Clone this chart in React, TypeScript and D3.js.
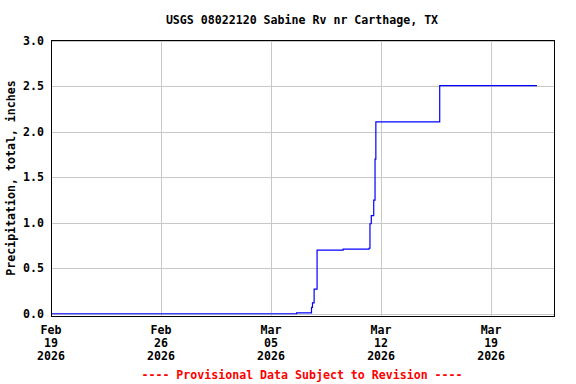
import React from "react";
import * as d3 from "d3";

const title = "USGS 08022120 Sabine Rv nr Carthage, TX";
const yLabel = "Precipitation, total, inches";
const footer = "---- Provisional Data Subject to Revision ----";

const times = [
  "2026-02-19T00:00Z",
  "2026-03-06T15:00Z",
  "2026-03-07T13:45Z",
  "2026-03-07T15:15Z",
  "2026-03-07T17:45Z",
  "2026-03-07T22:15Z",
  "2026-03-09T14:00Z",
  "2026-03-11T05:30Z",
  "2026-03-11T07:00Z",
  "2026-03-11T09:00Z",
  "2026-03-11T12:45Z",
  "2026-03-11T14:45Z",
  "2026-03-11T16:00Z",
  "2026-03-15T17:30Z",
  "2026-03-21T22:00Z",
];
const values = [0.0, 0.01, 0.07, 0.12, 0.27, 0.7, 0.71, 0.72, 0.99, 1.08, 1.25, 1.7, 2.11, 2.51, 2.51];

const xTicks = ["2026-02-19", "2026-02-26", "2026-03-05", "2026-03-12", "2026-03-19"];
const yTicks = [0, 0.5, 1.0, 1.5, 2.0, 2.5, 3.0];

const W = 576;
const H = 384;
const left = 51;
const right = 554;
const top = 40;
const bottom = 316;
const font = "'DejaVu Sans Mono', monospace";
const fs = 11.6;

export default function App() {
  const x = d3
    .scaleUtc()
    .domain([new Date("2026-02-19T00:00Z"), new Date("2026-03-23T00:00Z")])
    .range([left, right]);
  const y = d3.scaleLinear().domain([-0.025, 3.011]).range([bottom, top]);
  const data = times.map((t, i) => ({ t: new Date(t), v: values[i] }));
  const line = d3
    .line<{ t: Date; v: number }>()
    .x((d) => x(d.t))
    .y((d) => y(d.v))
    .curve(d3.curveStepAfter);
  const fmtM = d3.utcFormat("%b");
  const fmtD = d3.utcFormat("%d");
  const fmtY = d3.utcFormat("%Y");

  return (
    <svg
      width={W}
      height={H}
      style={{ position: "absolute", left: 0, top: 0, background: "#fff" }}
      fontFamily={font}
      fontWeight="bold"
      fontSize={fs}
    >
      <rect x={0} y={0} width={W} height={H} fill="#fff" />
      <text x={302} y={24} textAnchor="middle" fill="#000">
        {title}
      </text>
      {yTicks.map((v) => (
        <g key={"y" + v}>
          <line x1={left} x2={right} y1={Math.round(y(v)) + 0.5} y2={Math.round(y(v)) + 0.5} stroke="#c8c8c8" strokeWidth={1} />
          <text x={44} y={y(v) + 4} textAnchor="end" fill="#000">
            {v.toFixed(1)}
          </text>
        </g>
      ))}
      {xTicks.map((s) => {
        const d = new Date(s + "T00:00Z");
        const px = Math.round(x(d)) + 0.5;
        return (
          <g key={s}>
            <line x1={px} x2={px} y1={top} y2={bottom} stroke="#c8c8c8" strokeWidth={1} />
            <text x={x(d)} y={334} textAnchor="middle" fill="#000">
              {fmtM(d)}
            </text>
            <text x={x(d)} y={347} textAnchor="middle" fill="#000">
              {fmtD(d)}
            </text>
            <text x={x(d)} y={360} textAnchor="middle" fill="#000">
              {fmtY(d)}
            </text>
          </g>
        );
      })}
      <path d={line(data) || ""} fill="none" stroke="#0000ff" strokeWidth={1.2} />
      <rect x={left + 0.5} y={top + 0.5} width={right - left} height={bottom - top} fill="none" stroke="#000" strokeWidth={1} />
      <text transform={`translate(15,${(top + bottom) / 2}) rotate(-90)`} textAnchor="middle" fill="#000">
        {yLabel}
      </text>
      <text x={302} y={379} textAnchor="middle" fill="#ff0000">
        {footer}
      </text>
    </svg>
  );
}
